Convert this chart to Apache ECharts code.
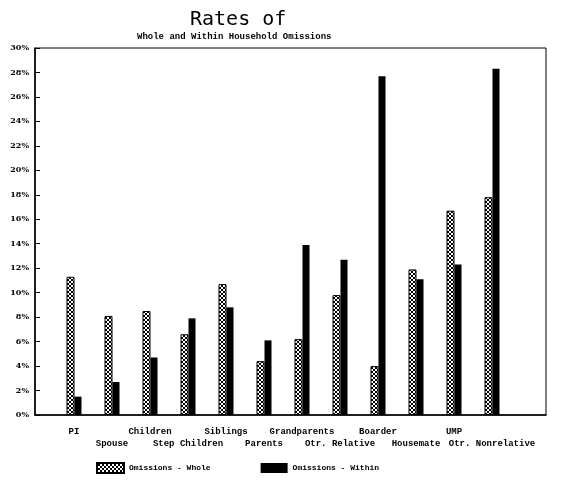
<!DOCTYPE html>
<html>
<head>
<meta charset="utf-8">
<script src="https://cdn.jsdelivr.net/npm/echarts@6/dist/echarts.min.js"></script>
<style>html,body{margin:0;padding:0;background:#fff}#c{width:567px;height:480px}</style>
</head>
<body>
<div id="c"></div>
<script>
var categories = ['PI','Spouse','Children','Step Children','Siblings','Parents','Grandparents','Otr. Relative','Boarder','Housemate','UMP','Otr. Nonrelative'];
var whole  = [11.3, 8.1, 8.5, 6.6, 10.7, 4.4, 6.2, 9.8, 4.0, 11.9, 16.7, 17.8];
var within = [1.5, 2.7, 4.7, 7.9, 8.8, 6.1, 13.9, 12.7, 27.7, 11.1, 12.3, 28.3];
var yTicks = [0, 30, 2];

function makePattern(){
  var c = document.createElement('canvas');
  c.width = 4; c.height = 4;
  var g = c.getContext('2d');
  g.fillStyle = '#fff'; g.fillRect(0,0,4,4);
  g.fillStyle = '#000';
  var px = [[0,0],[1,1],[2,2],[3,3],[3,0],[2,1],[1,2],[0,3]];
  px.forEach(function(p){ g.fillRect(p[0],p[1],1,1); });
  return c;
}
var pat = {image: makePattern(), repeat: 'repeat'};

var chart = echarts.init(document.getElementById('c'), null, {renderer:'canvas'});
chart.setOption({
  animation: false,
  backgroundColor: '#fff',
  title: [
    {text:'Rates of', left:190, top:10, padding:0, textStyle:{fontFamily:'DejaVu Sans Mono', fontWeight:'normal', fontSize:20, color:'#000'}},
    {text:'Whole and Within Household Omissions', left:137, top:32, padding:0, textStyle:{fontFamily:'Liberation Mono', fontWeight:'bold', fontSize:9, color:'#000'}}
  ],
  legend: {
    left: 96, top: 462, padding: 0, itemWidth: 27, itemHeight: 10, itemGap: 50, icon:'rect',
    textStyle: {fontFamily:'Liberation Mono', fontWeight:'bold', fontSize:8, color:'#000'},
    data: ['Omissions - Whole','Omissions - Within']
  },
  grid: [
    {left:35, right:21, top:48, bottom:65, show:true, borderColor:'#000', borderWidth:1, backgroundColor:'transparent'},
    {left:55, right:56, top:48, bottom:65}
  ],
  xAxis: [
    {gridIndex:0, type:'value', min:0, max:1, axisLine:{show:true, lineStyle:{color:'#000', width:1.5}}, axisTick:{show:false}, axisLabel:{show:false}, splitLine:{show:false}},
    {gridIndex:1, type:'category', data:categories, axisLine:{show:false}, axisTick:{show:false}, splitLine:{show:false},
     axisLabel:{interval:0, margin:11, fontSize:9, lineHeight:12, verticalAlign:'top', fontFamily:'Liberation Mono', fontWeight:'bold', color:'#000',
       formatter:function(v, i){ return i % 2 === 1 ? '\n' + v : v; }}}
  ],
  yAxis: [
    {gridIndex:0, type:'value', min:yTicks[0], max:yTicks[1], interval:yTicks[2],
     axisLine:{show:true, lineStyle:{color:'#000', width:1.5}},
     axisTick:{show:true, inside:true, length:5, lineStyle:{color:'#000'}},
     axisLabel:{formatter:'{value}%', fontSize:8, margin:6, fontFamily:'DejaVu Serif', fontWeight:'bold', color:'#000'},
     splitLine:{show:false}},
    {gridIndex:1, type:'value', min:yTicks[0], max:yTicks[1], show:false, splitLine:{show:false}}
  ],
  series: [
    {name:'Omissions - Whole', type:'bar', xAxisIndex:1, yAxisIndex:1, data:whole, barWidth:8, barGap:'0%',
     itemStyle:{color:pat, borderColor:'#000', borderWidth:1}},
    {name:'Omissions - Within', type:'bar', xAxisIndex:1, yAxisIndex:1, data:within, barWidth:7, barGap:'0%',
     itemStyle:{color:'#000'}}
  ]
});
</script>
</body>
</html>
